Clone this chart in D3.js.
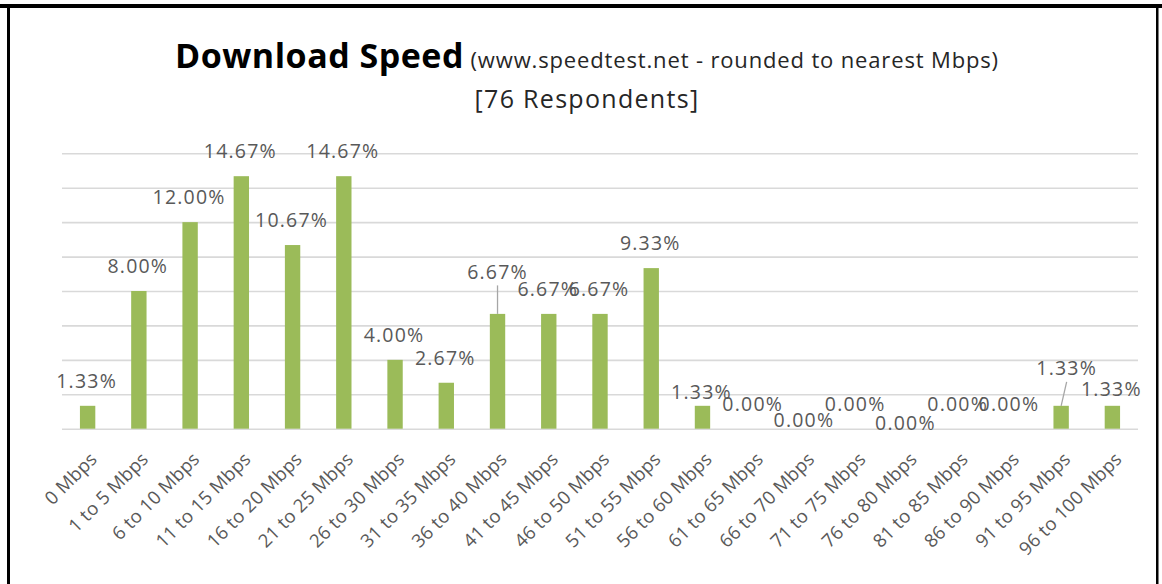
<!DOCTYPE html>
<html>
<head>
<meta charset="utf-8">
<script src="https://cdn.jsdelivr.net/npm/d3@7"></script>
<style>
  html, body { margin: 0; padding: 0; background: #fff; }
  svg { display: block; font-family: "Open Sans", "Segoe UI", sans-serif; }
</style>
</head>
<body>
<svg id="chart" width="1162" height="584"></svg>
<script>
// ---- data ----
const categories = [
  "0 Mbps", "1 to 5 Mbps", "6 to 10 Mbps", "11 to 15 Mbps", "16 to 20 Mbps",
  "21 to 25 Mbps", "26 to 30 Mbps", "31 to 35 Mbps", "36 to 40 Mbps", "41 to 45 Mbps",
  "46 to 50 Mbps", "51 to 55 Mbps", "56 to 60 Mbps", "61 to 65 Mbps", "66 to 70 Mbps",
  "71 to 75 Mbps", "76 to 80 Mbps", "81 to 85 Mbps", "86 to 90 Mbps", "91 to 95 Mbps",
  "96 to 100 Mbps"
];
const percentValues = [
  1.33, 8.00, 12.00, 14.67, 10.67, 14.67, 4.00, 2.67, 6.67, 6.67,
  6.67, 9.33, 1.33, 0.00, 0.00, 0.00, 0.00, 0.00, 0.00, 1.33, 1.33
];
const yTickValues = [0, 2, 4, 6, 8, 10, 12, 14, 16];
const titleMain = "Download Speed";
const titleSub = "(www.speedtest.net - rounded to nearest Mbps)";
const titleLine2 = "[76 Respondents]";

// ---- layout (manual label placement as in the original) ----
const labelNudge = {
  8: { dx: 0, dy: -17, leader: true },
  12: { dx: -1, dy: 11.5 },
  14: { dx: -1, dy: 16.5 },
  16: { dx: -2, dy: 19 },
  19: { dx: 5.5, dy: -12.4, leader: true },
  20: { dx: -1, dy: 8.6 }
};

const svg = d3.select("#chart");
const plotLeft = 62, plotRight = 1138, plotTop = 153.3, plotBottom = 428.7;

const x = d3.scaleBand().domain(categories).range([plotLeft, plotRight])
  .paddingInner(0.7).paddingOuter(0.35);
const y = d3.scaleLinear().domain([0, 16]).range([plotBottom, plotTop]);

// frame
svg.append("rect").attr("x", 0).attr("y", 4).attr("width", 1162).attr("height", 4).attr("fill", "#000");
svg.append("rect").attr("x", 7).attr("y", 4).attr("width", 3).attr("height", 580).attr("fill", "#000");
svg.append("rect").attr("x", 1156).attr("y", 4).attr("width", 2.5).attr("height", 580).attr("fill", "#000");

// title
const t1 = svg.append("text").attr("x", 587).attr("y", 68).attr("text-anchor", "middle").attr("fill", "#000");
t1.append("tspan").attr("font-weight", 700).attr("font-size", 34).attr("letter-spacing", 0.5).text(titleMain);
t1.append("tspan").attr("font-size", 22).attr("letter-spacing", 0.85).attr("fill", "#262626").text(" " + titleSub);
svg.append("text").attr("x", 587).attr("y", 108).attr("text-anchor", "middle")
  .attr("font-size", 25).attr("letter-spacing", 1.3).attr("fill", "#262626").text(titleLine2);

// gridlines
const yAxis = d3.axisLeft(y).tickValues(yTickValues).tickSize(-(plotRight - plotLeft)).tickFormat("");
const gy = svg.append("g").attr("transform", `translate(${plotLeft},0)`).call(yAxis);
gy.select(".domain").remove();
gy.selectAll(".tick line").attr("stroke", "#D9D9D9").attr("stroke-width", 1.6);

// x axis labels
const xAxis = d3.axisBottom(x).tickSize(0).tickPadding(0);
const gx = svg.append("g").attr("transform", `translate(0,${plotBottom})`).call(xAxis);
gx.select(".domain").remove();
gx.selectAll(".tick text")
  .attr("font-family", "'Open Sans', sans-serif")
  .attr("font-size", 18.5)
  .attr("letter-spacing", 0.2)
  .attr("fill", "#595959")
  .attr("text-anchor", "end")
  .attr("dy", "0.35em")
  .attr("y", 0)
  .attr("transform", "translate(6,27) rotate(-45)");

// bars
svg.append("g").selectAll("rect").data(percentValues).join("rect")
  .attr("x", (d, i) => x(categories[i]))
  .attr("y", d => y(d))
  .attr("width", x.bandwidth())
  .attr("height", d => y(0) - y(d))
  .attr("fill", "#9BBB59");

// labels
const lab = percentValues.map((d, i) => {
  const n = labelNudge[i] || { dx: -1, dy: 0 };
  const cx = x(categories[i]) + x.bandwidth() / 2;
  return { v: d, cx, barTop: y(d), lx: cx + n.dx, ly: y(d) - 25.5 + n.dy, leader: !!n.leader };
});

svg.append("g").selectAll("line").data(lab.filter(d => d.leader)).join("line")
  .attr("x1", d => d.cx).attr("y1", d => d.barTop)
  .attr("x2", d => d.lx).attr("y2", d => d.ly + 14)
  .attr("stroke", "#A6A6A6").attr("stroke-width", 1.3);

svg.append("g").selectAll("text").data(lab).join("text")
  .attr("x", d => d.lx).attr("y", d => d.ly)
  .attr("text-anchor", "middle")
  .attr("dominant-baseline", "central")
  .attr("font-size", 19.5)
  .attr("letter-spacing", 1.2)
  .attr("fill", "#595959")
  .text(d => d.v.toFixed(2) + "%");
</script>
</body>
</html>
